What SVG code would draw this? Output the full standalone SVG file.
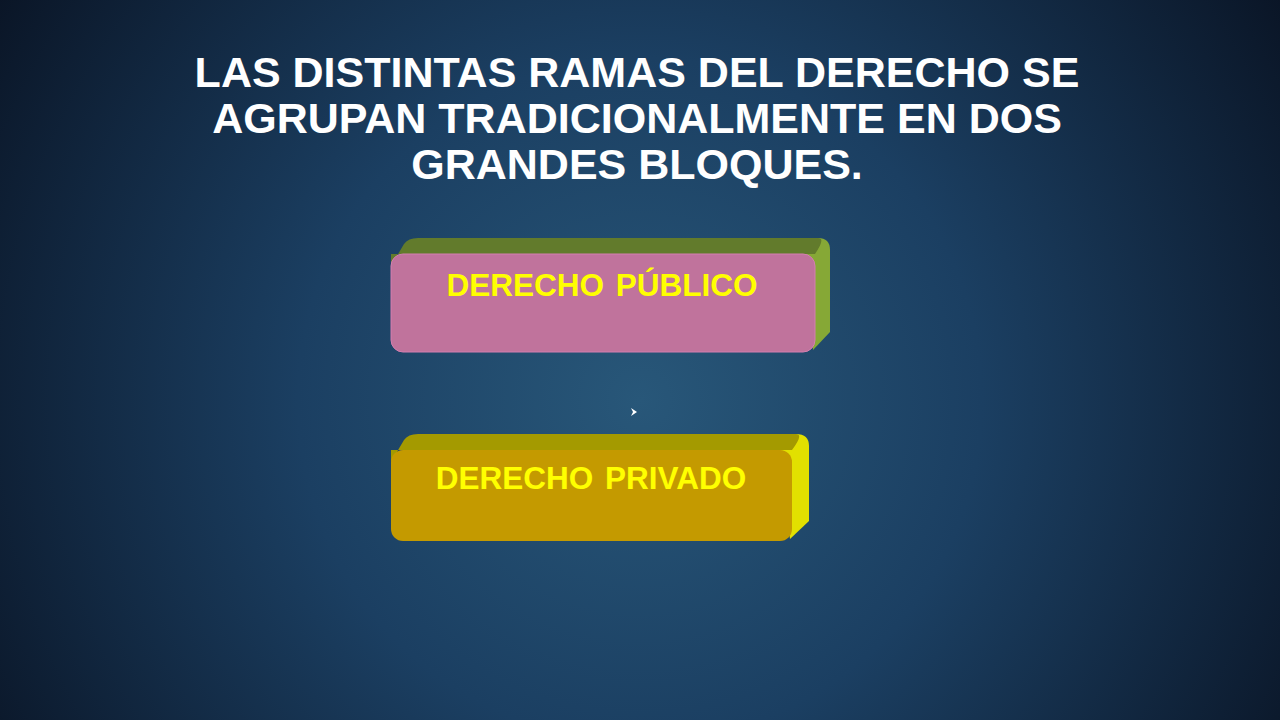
<svg xmlns="http://www.w3.org/2000/svg" width="1280" height="720" viewBox="0 0 1280 720">
<defs>
<radialGradient id="bg" cx="640" cy="400" r="760" gradientUnits="userSpaceOnUse">
<stop offset="0" stop-color="#285779"/>
<stop offset="0.45" stop-color="#1b3f62"/>
<stop offset="1" stop-color="#0a1526"/>
</radialGradient>
<style>
.title{font-family:"Liberation Sans",Arial,sans-serif;font-weight:bold;font-size:43px;fill:#ffffff;text-anchor:middle}
.lbl{font-family:"Liberation Sans",Arial,sans-serif;font-weight:bold;font-size:31.5px;fill:#ffff00;text-anchor:middle;word-spacing:3px}
</style>
</defs>
<rect x="0" y="0" width="1280" height="720" fill="url(#bg)"/>
<g id="title">
<text class="title" x="637" y="87">LAS DISTINTAS RAMAS DEL DERECHO SE</text>
<text class="title" x="637" y="133">AGRUPAN TRADICIONALMENTE EN DOS</text>
<text class="title" x="637" y="179">GRANDES BLOQUES.</text>
</g>
<g id="publico">
<path d="M803,254 L818,238 Q830,238 830,250 L830,332 L813,350 Z" fill="#86a836"/>
<path d="M391,266 L404,244 Q408,238 418,238 L818,238 Q826,238 815,254 L391,254 Z" fill="#627b2c"/>
<rect x="391" y="254" width="424" height="98" rx="12" fill="#c0739c" stroke="#d47fb0" stroke-width="1"/>
<text class="lbl" x="602" y="296">DERECHO PÚBLICO</text>
</g>
<g id="privado">
<path d="M780,450 L796,434 Q809,434 809,446 L809,521 L790,539 Z" fill="#e2e000"/>
<path d="M391,462 L404,440 Q408,434 418,434 L796,434 Q804,434 792,450 L391,450 Z" fill="#a49a00"/>
<rect x="391" y="450" width="401" height="91" rx="12" fill="#c49a00"/>
<text class="lbl" x="591" y="489">DERECHO PRIVADO</text>
</g>
<g id="connectors">
<path d="M631,408 L637,412 L631,416 L633,412 Z" fill="#ffffff"/>
</g>
</svg>
